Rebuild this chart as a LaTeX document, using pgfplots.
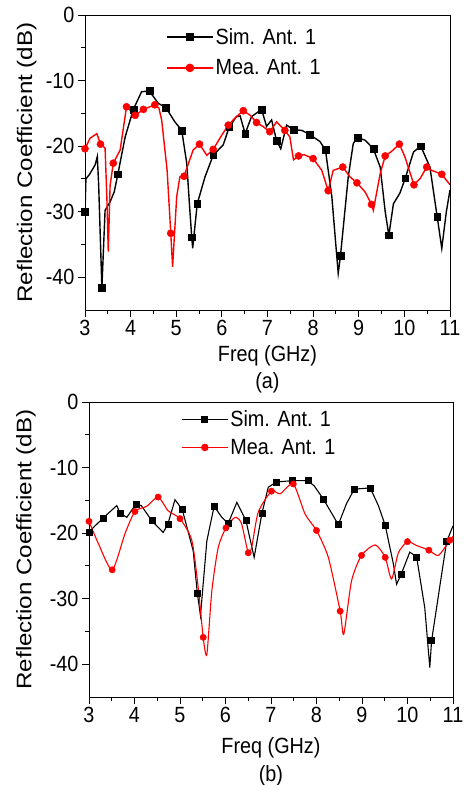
\documentclass[border=0pt]{standalone}
\usepackage{fontspec}
\setmainfont{Liberation Sans}
\newfontfamily\tallf[FakeStretch=0.9]{Liberation Sans}
\newfontfamily\widef[FakeStretch=1.15]{Liberation Sans}
\usepackage{pgfplots}
\pgfplotsset{compat=1.18}

\pgfplotsset{
  myaxis/.style={
    scale only axis,
    anchor=south west,
    clip mode=individual,
    xmin=3, xmax=11, ymin=-45, ymax=0,
    xtick={3,4,5,6,7,8,9,10,11},
    xticklabels={3,4,5,6,7,8,9,10,11},
    ytick={-40,-30,-20,-10,0},
    yticklabels={-40,-30,-20,-10,0},
    minor x tick num=1, minor y tick num=1,
    tick align=outside,
    xtick pos=bottom, ytick pos=left,
    major tick length=7pt, minor tick length=4pt,
    tick style={black, line width=0.9pt},
    axis line style={line width=0.9pt},
    tick label style={font=\tallf\fontsize{22}{26}\selectfont},
    xlabel style={font=\tallf\fontsize{22}{26}\selectfont},
    ylabel style={font=\widef\fontsize{21}{25}\selectfont},
    xlabel={Freq (GHz)},
    ylabel={Reflection Coefficient (dB)},
    legend style={draw=none, fill=none, inner sep=0pt, anchor=north west,
      font=\tallf\fontsize{22}{26}\selectfont,
      nodes={inner sep=2pt}},
    legend cell align=left,
    legend image code/.code={\draw[mark repeat=2,mark phase=2] plot coordinates {(0pt,0pt) (23pt,0pt) (46pt,0pt)};},
  },
  simline/.style={black, line width=1.4pt, no marks},
  mealine/.style={red, line width=1.4pt, no marks},
  simmark/.style={only marks, mark=square*, mark size=3.4pt, black},
  meamark/.style={only marks, mark=*, mark size=3.6pt, red},
}

\pgfplotstableread{
f db
3.00 -30.0
3.02 -25.0
3.10 -24.3
3.22 -22.9
3.27 -21.6
3.30 -26.0
3.37 -41.6
3.44 -29.8
3.55 -28.5
3.64 -27.0
3.72 -24.3
3.88 -18.6
4.06 -14.4
4.24 -11.7
4.41 -11.6
4.61 -13.5
4.77 -14.1
4.97 -16.3
5.12 -17.6
5.23 -22.6
5.30 -30.0
5.34 -33.9
5.36 -35.6
5.46 -28.8
5.63 -24.7
5.81 -21.4
6.03 -19.8
6.16 -17.1
6.32 -15.5
6.40 -15.4
6.51 -18.1
6.65 -15.5
6.87 -14.4
6.98 -17.0
7.09 -16.0
7.20 -19.2
7.29 -20.4
7.42 -16.8
7.57 -17.5
7.75 -17.6
7.92 -18.2
8.15 -19.3
8.27 -20.6
8.41 -27.7
8.55 -39.4
8.60 -36.7
8.77 -24.7
8.88 -19.6
8.97 -18.7
9.14 -19.1
9.32 -20.4
9.47 -23.2
9.58 -30.0
9.66 -33.6
9.76 -28.8
9.90 -27.2
10.02 -24.9
10.20 -20.9
10.36 -20.0
10.56 -23.2
10.72 -30.8
10.82 -35.6
10.92 -30.0
11.00 -26.7
}\simA

\pgfplotstableread{
f db
3.00 -30.0
3.37 -41.6
3.72 -24.3
4.06 -14.4
4.41 -11.6
4.77 -14.1
5.12 -17.6
5.34 -33.9
5.46 -28.8
5.81 -21.4
6.16 -17.1
6.51 -18.1
6.87 -14.4
7.20 -19.2
7.57 -17.5
7.92 -18.2
8.27 -20.6
8.60 -36.7
8.97 -18.7
9.32 -20.4
9.66 -33.6
10.02 -24.9
10.36 -20.0
10.72 -30.8
}\simAm

\pgfplotstableread{
f db
3.00 -20.4
3.11 -18.8
3.26 -18.1
3.34 -19.7
3.44 -20.3
3.48 -28.0
3.51 -36.1
3.55 -26.0
3.62 -22.6
3.77 -20.6
3.91 -14.0
4.10 -15.3
4.28 -14.4
4.53 -13.7
4.62 -14.2
4.68 -16.0
4.80 -23.7
4.88 -33.3
4.92 -38.4
5.01 -27.7
5.08 -24.7
5.17 -24.6
5.37 -20.6
5.51 -19.7
5.67 -21.4
5.81 -20.5
6.00 -18.3
6.14 -16.8
6.32 -15.5
6.47 -14.6
6.62 -15.3
6.76 -16.4
6.90 -17.0
7.05 -17.8
7.20 -16.3
7.38 -17.6
7.49 -18.6
7.57 -22.1
7.68 -21.5
7.80 -21.3
8.00 -21.9
8.19 -23.7
8.33 -26.8
8.44 -23.7
8.65 -23.2
8.81 -24.7
8.96 -25.6
9.14 -27.0
9.28 -28.9
9.32 -29.8
9.47 -24.2
9.58 -21.5
9.72 -20.8
9.89 -19.7
10.01 -21.6
10.21 -25.9
10.35 -24.9
10.49 -23.2
10.60 -23.7
10.82 -24.3
11.00 -25.9
}\meaA

\pgfplotstableread{
f db
3.00 -20.4
3.34 -19.7
3.62 -22.6
3.91 -14.0
4.10 -15.3
4.28 -14.4
4.53 -13.7
4.88 -33.3
5.17 -24.6
5.51 -19.7
5.81 -20.5
6.14 -16.8
6.47 -14.6
6.76 -16.4
7.05 -17.8
7.38 -17.6
7.68 -21.5
8.00 -21.9
8.33 -26.8
8.65 -23.2
8.96 -25.6
9.28 -28.9
9.58 -21.5
9.89 -19.7
10.21 -25.9
10.49 -23.2
10.82 -24.3
}\meaAm

\pgfplotstableread{
f db
3.00 -19.8
3.31 -17.7
3.61 -15.8
3.68 -16.9
3.83 -17.6
4.03 -15.6
4.15 -15.8
4.38 -18.1
4.63 -19.9
4.73 -18.7
4.89 -14.9
5.05 -16.4
5.29 -22.7
5.38 -29.1
5.45 -32.6
5.59 -21.2
5.75 -15.9
5.92 -17.6
6.06 -18.5
6.25 -15.3
6.45 -18.1
6.63 -23.7
6.80 -17.0
6.94 -13.0
7.12 -12.2
7.47 -12.0
7.81 -12.0
7.95 -12.8
8.15 -14.8
8.48 -18.7
8.66 -15.5
8.83 -13.3
9.18 -13.1
9.36 -15.8
9.51 -18.8
9.69 -24.7
9.76 -27.8
9.86 -26.3
10.05 -22.9
10.20 -23.6
10.38 -31.4
10.49 -40.5
10.53 -36.4
10.75 -26.3
10.86 -21.3
11.00 -18.9
}\simB

\pgfplotstableread{
f db
3.00 -19.8
3.31 -17.7
3.68 -16.9
4.03 -15.6
4.38 -18.1
4.73 -18.7
5.05 -16.4
5.38 -29.1
5.75 -15.9
6.06 -18.5
6.45 -18.1
6.80 -17.0
7.12 -12.2
7.47 -12.0
7.81 -12.0
8.15 -14.8
8.48 -18.7
8.83 -13.3
9.18 -13.1
9.51 -18.8
9.86 -26.3
10.20 -23.6
10.53 -36.4
10.86 -21.3
}\simBm

\pgfplotstableread{
f db
3.00 -18.2
3.20 -21.5
3.51 -25.6
3.79 -20.1
4.01 -16.7
4.27 -15.9
4.52 -14.5
4.74 -16.6
5.00 -17.8
5.26 -21.1
5.40 -28.3
5.51 -35.9
5.59 -38.5
5.70 -28.8
5.84 -22.2
6.01 -19.2
6.21 -17.6
6.35 -18.5
6.50 -23.0
6.58 -22.0
6.72 -16.8
7.01 -13.6
7.20 -14.0
7.49 -12.5
7.75 -17.1
8.00 -19.6
8.26 -23.7
8.52 -31.9
8.60 -35.4
8.77 -27.3
8.99 -23.4
9.29 -21.8
9.51 -23.7
9.65 -27.0
9.80 -23.0
10.00 -21.3
10.20 -21.9
10.47 -22.6
10.68 -23.4
10.93 -21.1
11.00 -20.5
}\meaB

\pgfplotstableread{
f db
3.00 -18.2
3.51 -25.6
4.01 -16.7
4.52 -14.5
5.00 -17.8
5.51 -35.9
6.01 -19.2
6.50 -23.0
7.01 -13.6
7.49 -12.5
8.00 -19.6
8.52 -31.9
8.99 -23.4
9.51 -23.7
10.00 -21.3
10.47 -22.6
10.93 -21.1
}\meaBm

\begin{document}
\begin{tikzpicture}
\useasboundingbox (0pt,0pt) rectangle (466pt,785pt);
% panel (a)
\begin{axis}[myaxis,
  at={(85pt,475pt)}, width=365pt, height=295pt,
  xlabel style={at={(axis description cs:0.5,-0.156)}, anchor=center},
  ylabel style={at={(axis description cs:-0.16,0.5)}, anchor=center},
  legend style={at={(axis description cs:0.222,0.963)}, row sep=10pt},
]
\addlegendimage{black, line width=1.4pt, mark=square*, mark size=3.4pt}
\addlegendentry{Sim. Ant. 1}
\addlegendimage{red, line width=1.4pt, mark=*, mark size=3.6pt}
\addlegendentry{Mea. Ant. 1}
\addplot[simline, forget plot] table[x=f,y=db] {\simA};
\addplot[mealine, forget plot] table[x=f,y=db] {\meaA};
\addplot[simmark, forget plot] table[x=f,y=db] {\simAm};
\addplot[meamark, forget plot] table[x=f,y=db] {\meaAm};
\node[font=\tallf\fontsize{22}{26}\selectfont] at (axis description cs:0.5,-0.247) {(a)};
\end{axis}
% panel (b)
\begin{axis}[myaxis,
  at={(89pt,88pt)}, width=364pt, height=295pt,
  xlabel style={at={(axis description cs:0.5,-0.173)}, anchor=center},
  ylabel style={at={(axis description cs:-0.173,0.5)}, anchor=center},
  legend style={at={(axis description cs:0.253,0.978)}, row sep=7pt},
]
\addlegendimage{black, line width=1.1pt, mark=square*, mark size=3pt}
\addlegendentry{Sim. Ant. 1}
\addlegendimage{red, line width=1.1pt, mark=*, mark size=3.2pt}
\addlegendentry{Mea. Ant. 1}
\addplot[simline, line width=1.1pt, forget plot] table[x=f,y=db] {\simB};
\addplot[mealine, line width=1.1pt, smooth, tension=0.4, forget plot] table[x=f,y=db] {\meaB};
\addplot[simmark, mark size=3pt, forget plot] table[x=f,y=db] {\simBm};
\addplot[meamark, mark size=3.2pt, forget plot] table[x=f,y=db] {\meaBm};
\node[font=\tallf\fontsize{22}{26}\selectfont] at (axis description cs:0.5,-0.268) {(b)};
\end{axis}
\end{tikzpicture}
\end{document}
